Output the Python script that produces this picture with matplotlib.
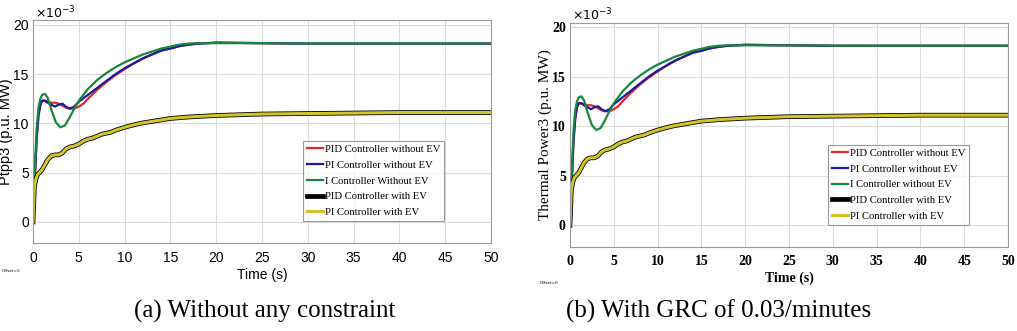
import numpy as np
import matplotlib
matplotlib.use("Agg")
import matplotlib.pyplot as plt

# values, in units of 1e-3 p.u. MW
t_i = [0, 0.2, 0.4, 0.6, 0.8, 1.0, 1.3, 1.6, 2.0, 2.5, 3.0, 3.5, 4.0, 4.5, 5.0, 6, 7, 8, 9, 10,
       11, 12, 13, 14, 15, 16, 17, 18, 20, 25, 30, 40, 50]
i_no_ev = [0, 5.5, 9.5, 11.6, 12.5, 12.9, 13.0, 12.6, 11.4, 10.1, 9.6, 9.8, 10.6, 11.5, 12.3, 13.5,
           14.4, 15.1, 15.7, 16.2, 16.6, 17.0, 17.3, 17.6, 17.8, 18.0, 18.1, 18.15, 18.15, 18.15,
           18.1, 18.1, 18.1]

t_pi = [0, 0.2, 0.4, 0.6, 0.8, 1.0, 1.3, 1.6, 2.0, 2.4, 2.8, 3.2, 3.6, 4.0, 4.5, 5, 6, 7, 8, 9, 10,
        11, 12, 13, 14, 15, 16, 17, 18, 19, 20, 25, 30, 40, 50]
pi_no_ev = [0, 4.5, 8.5, 10.8, 11.9, 12.3, 12.3, 12.1, 11.9, 11.7, 11.9, 12.0, 11.7, 11.5, 11.7,
            12.2, 12.9, 13.6, 14.3, 15.0, 15.6, 16.1, 16.6, 17.0, 17.4, 17.6, 17.85, 18.0, 18.1,
            18.15, 18.2, 18.15, 18.1, 18.1, 18.1]

t_pid = [0, 0.2, 0.4, 0.6, 0.8, 1.0, 1.3, 1.6, 2.0, 2.4, 2.8, 3.2, 3.6, 4.0, 4.5, 5, 5.5, 6, 7, 8,
         9, 10, 11, 12, 13, 14, 15, 16, 17, 18, 19, 20, 25, 30, 40, 50]
pid_no_ev = [0, 4.5, 8.5, 10.8, 11.9, 12.3, 12.3, 12.2, 12.1, 12.1, 12.0, 11.8, 11.6, 11.5, 11.5,
             11.7, 12.0, 12.5, 13.4, 14.2, 14.9, 15.5, 16.1, 16.6, 17.0, 17.4, 17.6, 17.85, 18.0,
             18.1, 18.15, 18.2, 18.15, 18.1, 18.1, 18.1]

t_ev = [0, 0.15, 0.3, 0.5, 0.8, 1.0, 1.3, 1.6, 2.0, 2.4, 2.8, 3.2, 3.6, 4.0, 4.5, 5.0, 5.5, 6.0,
        6.5, 7.0, 7.5, 8.0, 8.5, 9, 10, 11, 12, 13, 14, 15, 17, 20, 25, 30, 35, 40, 45, 50]
pid_ev = [0, 3.5, 4.3, 4.8, 5.1, 5.3, 5.8, 6.3, 6.7, 6.8, 6.8, 7.0, 7.4, 7.6, 7.7, 7.9, 8.2, 8.4,
          8.5, 8.7, 8.9, 9.0, 9.1, 9.3, 9.6, 9.85, 10.05, 10.2, 10.35, 10.5, 10.65, 10.8, 10.95,
          11.0, 11.05, 11.1, 11.1, 11.1]
pi_ev = pid_ev

labels_a = ["PID Controller without EV", "PI Controller without EV", "I Controller Without EV",
            "PID Controller with EV", "PI Controller with EV"]
labels_b = ["PID Controller without EV", "PI Controller without EV", "I Controller without EV",
            "PID Controller with EV", "PI Controller with EV"]
x_ticks = [0, 5, 10, 15, 20, 25, 30, 35, 40, 45, 50]
y_ticks = [0, 5, 10, 15, 20]

colors = ["#e8262a", "#1c1c9c", "#16883c", "#000000", "#d2c42a"]


def draw_panel(ax, labels, ylabel, font, tickweight, ylim, ylsize):
    ax.plot(t_pid, pid_no_ev, color=colors[0], lw=1.6, label=labels[0])
    ax.plot(t_pi, pi_no_ev, color=colors[1], lw=1.6, label=labels[1])
    ax.plot(t_i, i_no_ev, color=colors[2], lw=1.6, label=labels[2])
    ax.plot(t_ev, pid_ev, color=colors[3], lw=3.4, label=labels[3])
    ax.plot(t_ev, pi_ev, color=colors[4], lw=2.2, label=labels[4])
    ax.set_xlim(0, 50)
    ax.set_ylim(*ylim)
    ax.set_xticks(x_ticks)
    ax.set_yticks(y_ticks)
    ax.grid(True, color="#dcdcdc", lw=0.8)
    for s in ax.spines.values():
        s.set_color("#9a9a9a")
    ax.tick_params(axis="x", length=0, pad=6)
    ax.tick_params(axis="y", length=0, pad=3)
    for lab in ax.get_xticklabels() + ax.get_yticklabels():
        lab.set_fontfamily(font)
        lab.set_fontsize(10)
        lab.set_fontweight(tickweight)
    ax.set_xlabel("Time (s)", family=font, fontsize=10, fontweight=tickweight, labelpad=2)
    ax.set_ylabel(ylabel, family=font, fontsize=ylsize, labelpad=0)
    leg = ax.legend(loc="lower left", bbox_to_anchor=(0.59, 0.10), prop={"family": "Liberation Serif", "size": 7.7},
                    frameon=True, fancybox=False, edgecolor="#808080", handlelength=1.5,
                    handletextpad=0.15, labelspacing=0.58, borderpad=0.35, borderaxespad=0)
    leg.get_frame().set_linewidth(0.8)


fig = plt.figure(figsize=(10.17, 3.31), dpi=100)
ax1 = fig.add_axes([33 / 1017, 88 / 331, 458 / 1017, 223 / 331])
ax2 = fig.add_axes([570 / 1017, 84 / 331, 438 / 1017, 224 / 331])

draw_panel(ax1, labels_a, "Ptpp3 (p.u. MW)", "Liberation Sans", "normal", (-2.15, 20.5), 10.5)
draw_panel(ax2, labels_b, "Thermal Power3 (p.u. MW)", "Liberation Serif", "bold", (-2.2, 20.4), 11)

fig.text(35 / 1017, 1 - 13 / 331, r"$\times10^{-3}$", family="Liberation Sans", fontsize=9, va="center")
fig.text(572 / 1017, 1 - 15 / 331, r"$\times10^{-3}$", family="Liberation Serif", fontsize=9, va="center")
fig.text(2 / 1017, 1 - 271 / 331, "Offset=0", fontsize=3, va="center")
fig.text(540 / 1017, 1 - 283 / 331, "Offset=0", fontsize=3, va="center")

fig.text(265 / 1017, 1 - 311 / 331, "(a) Without any constraint", family="Liberation Serif",
         fontsize=18, ha="center", va="center")
fig.text(719 / 1017, 1 - 311 / 331, "(b) With GRC of 0.03/minutes", family="Liberation Serif",
         fontsize=18, ha="center", va="center")

fig.savefig("out.png", dpi=100, facecolor="white")
